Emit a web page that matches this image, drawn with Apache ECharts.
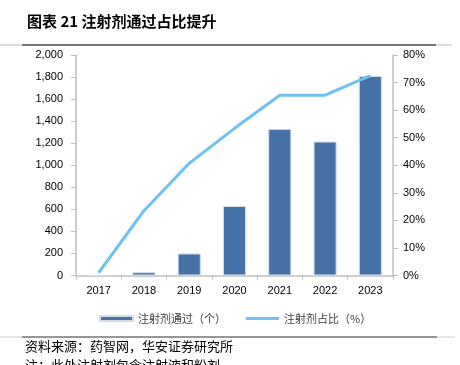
<!DOCTYPE html>
<html>
<head>
<meta charset="utf-8">
<script src="https://cdn.jsdelivr.net/npm/echarts@6/dist/echarts.min.js"></script>
<style>
    html, body { margin: 0; padding: 0; background: #fff; }
    #main { width: 460px; height: 365px; }
</style>
</head>
<body>
<div id="main"></div>
<script>
// 注射剂通过数量及占比
var years = ['2017', '2018', '2019', '2020', '2021', '2022', '2023'];
var passCount = [0, 30, 200, 630, 1330, 1215, 1810];
var passRatio = [1, 23.5, 40.7, 53.4, 65.4, 65.4, 72.5];
var leftTicks = [0, 2000, 200];
var rightTicks = [0, 80, 10];

var cjk = '"Noto Sans CJK SC", sans-serif';
var latin = 'Arial, "Liberation Sans", sans-serif';

var char = echarts.init(document.getElementById('main'));

var option = {
    animation: false,
    grid: {
        left: 76,
        right: 67,
        top: 55,
        bottom: 89.5
    },
    legend: {
        left: 94,
        top: 308,
        itemWidth: 33,
        itemHeight: 5,
        itemGap: 20,
        textStyle: {
            fontFamily: cjk,
            fontSize: 11,
            color: '#404040'
        },
        data: [
            { name: '注射剂通过（个）', icon: 'rect' },
            { name: '注射剂占比（%）', icon: 'path://M0,0 L33,0 L33,3 L0,3 Z' }
        ]
    },
    xAxis: [
        {
            type: 'category',
            data: years,
            axisLine: { lineStyle: { color: '#bfbfbf', width: 1.5 } },
            axisTick: { show: true, length: 4, lineStyle: { color: '#bfbfbf' } },
            axisLabel: {
                margin: 10,
                fontFamily: latin,
                fontSize: 11,
                color: '#000'
            }
        }
    ],
    yAxis: [
        {
            type: 'value',
            min: leftTicks[0],
            max: leftTicks[1],
            interval: leftTicks[2],
            splitLine: { show: false },
            axisLine: { show: true, lineStyle: { color: '#bfbfbf', width: 1.5 } },
            axisTick: { show: true, length: 5, lineStyle: { color: '#bfbfbf' } },
            axisLabel: {
                margin: 13,
                fontFamily: latin,
                fontSize: 11,
                color: '#000',
                formatter: function(v) {
                    return v.toLocaleString('en-US');
                }
            }
        },
        {
            type: 'value',
            position: 'right',
            min: rightTicks[0],
            max: rightTicks[1],
            interval: rightTicks[2],
            splitLine: { show: false },
            axisLine: { show: true, lineStyle: { color: '#bfbfbf', width: 1.5 } },
            axisTick: { show: true, length: 5, lineStyle: { color: '#bfbfbf' } },
            axisLabel: {
                margin: 10,
                fontFamily: latin,
                fontSize: 11,
                color: '#000',
                formatter: '{value}%'
            }
        }
    ],
    series: [
        {
            name: '注射剂通过（个）',
            type: 'bar',
            barWidth: '51%',
            itemStyle: {
                color: '#4672a8',
                borderColor: '#d4dcea',
                borderWidth: 1
            },
            data: passCount
        },
        {
            name: '注射剂占比（%）',
            type: 'line',
            yAxisIndex: 1,
            symbol: 'none',
            showSymbol: false,
            lineStyle: { color: '#6ec1f2', width: 3 },
            itemStyle: { color: '#6ec1f2' },
            data: passRatio
        }
    ],
    graphic: [
        {
            type: 'text',
            left: 27,
            top: 14,
            style: {
                text: '图表 21 注射剂通过占比提升',
                font: 'bold 15px ' + cjk,
                fill: '#000'
            }
        },
        {
            type: 'line',
            shape: { x1: 0, y1: 45, x2: 452, y2: 45 },
            style: { stroke: '#d0d0d0', lineWidth: 1.5 }
        },
        {
            type: 'line',
            shape: { x1: 22, y1: 45, x2: 436, y2: 45 },
            style: { stroke: '#555', lineWidth: 1.5 }
        },
        {
            type: 'line',
            shape: { x1: 0, y1: 337, x2: 455, y2: 337 },
            style: { stroke: '#d0d0d0', lineWidth: 1 }
        },
        {
            type: 'line',
            shape: { x1: 22, y1: 337, x2: 437, y2: 337 },
            style: { stroke: '#444', lineWidth: 1 }
        },
        {
            type: 'text',
            left: 25,
            top: 340,
            style: {
                text: '资料来源：药智网，华安证券研究所',
                font: '13px ' + cjk,
                fill: '#000'
            }
        },
        {
            type: 'text',
            left: 25,
            top: 359,
            style: {
                text: '注：此处注射剂包含注射液和粉剂',
                font: '13px ' + cjk,
                fill: '#000'
            }
        }
    ]
};

char.setOption(option);
</script>
</body>
</html>
